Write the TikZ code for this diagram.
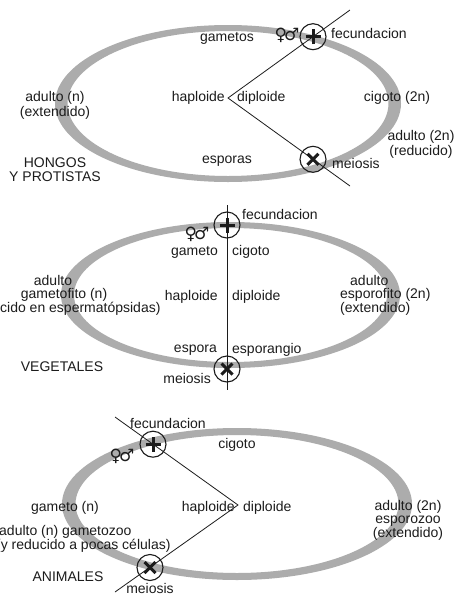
\documentclass[tikz,border=0pt]{standalone}
\usepackage{fontspec}
\setmainfont{Liberation Sans}
\newfontfamily\symfont{DejaVu Sans}
\definecolor{band}{RGB}{172,172,172}
\definecolor{ink}{RGB}{28,28,28}
\tikzset{
  lbl/.style={font=\fontsize{14}{13}\selectfont, text=ink, inner sep=0pt},
  sym/.style={font=\symfont\bfseries\fontsize{17}{17}\selectfont, text=ink, inner sep=0pt},
  evt/.style={circle, draw=ink, line width=1.1pt, minimum size=26pt, inner sep=0pt},
  fec/.style={evt, path picture={
      \draw[line width=3pt,ink] ([xshift=-7.5pt]path picture bounding box.center) -- ([xshift=7.5pt]path picture bounding box.center);
      \draw[line width=3pt,ink] ([yshift=-7.5pt]path picture bounding box.center) -- ([yshift=7.5pt]path picture bounding box.center);}},
  mei/.style={evt, path picture={
      \draw[line width=3pt,ink] ([shift={(-5.5pt,-5.5pt)}]path picture bounding box.center) -- ([shift={(5.5pt,5.5pt)}]path picture bounding box.center);
      \draw[line width=3pt,ink] ([shift={(-5.5pt,5.5pt)}]path picture bounding box.center) -- ([shift={(5.5pt,-5.5pt)}]path picture bounding box.center);}},
  axisline/.style={draw=ink, line width=0.8pt},
  bandring/.style={fill=band, even odd rule},
}
\begin{document}
\begin{tikzpicture}[x=1pt,y=-1pt]
\useasboundingbox (0,0) rectangle (455,598);
\fill[white] (0,0) rectangle (455,598);

% ---------- Diagram 1: hongos y protistas ----------
\fill[bandring] (228,103.5) ellipse [x radius=173, y radius=78.5]
                (228,103.5) ellipse [x radius=160.5, y radius=72.5];
\coordinate (t1) at (350,10);
\coordinate (v1) at (228,98);
\coordinate (b1) at (350,186);
\draw[axisline] (t1) -- (v1) -- (b1);
\node[fec] (f1) at (313,36.7) {};
\node[mei] (m1) at (313,159.3) {};
\node[lbl] (gametos1) at (227,38) {gametos};
\node[sym] (sex1) at (287,35) {♀\kern-3pt♂};
\node[lbl, anchor=west] (fecl1) at (331,33) {fecundacion};
\node[lbl, anchor=east] (hap1) at (225,98) {haploide};
\node[lbl, anchor=west] (dip1) at (237,98) {diploide};
\node[lbl, align=center, font=\fontsize{14}{15}\selectfont] (adn1) at (55,105.5) {adulto (n)\\(extendido)};
\node[lbl] (cig1) at (397,98) {cigoto (2n)};
\node[lbl, align=center, font=\fontsize{14}{15}\selectfont] (ad2n1) at (421,144.5) {adulto (2n)\\(reducido)};
\node[lbl] (esp1) at (227,161) {esporas};
\node[lbl, anchor=west] (meil1) at (332,163) {meiosis};
\node[lbl, align=center, font=\fontsize{14}{14}\selectfont] (title1) at (55,170) {HONGOS\\Y PROTISTAS};

% ---------- Diagram 2: vegetales ----------
\fill[bandring] (230.5,295) ellipse [x radius=169.5, y radius=73]
                (230.5,295) ellipse [x radius=156.5, y radius=67];
\coordinate (t2) at (227,205);
\coordinate (b2) at (227,390);
\draw[axisline] (t2) -- (b2);
\node[fec] (f2) at (227,225) {};
\node[mei] (m2) at (227,369) {};
\node[lbl, anchor=west] (fecl2) at (242,214) {fecundacion};
\node[sym] (sex2) at (197,234) {♀\kern-3pt♂};
\node[lbl, anchor=east] (gam2) at (218,252) {gameto};
\node[lbl, anchor=west] (cig2) at (232,252) {cigoto};
\node[lbl, anchor=east] (hap2) at (218,297) {haploide};
\node[lbl, anchor=west] (dip2) at (232,297) {diploide};
\node[lbl, anchor=east] (espo2) at (217,350) {espora};
\node[lbl, anchor=west] (espg2) at (232,350) {esporangio};
\node[lbl, anchor=east] (meil2) at (211,378) {meiosis};
\node[lbl] (title2) at (62,367) {VEGETALES};
\node[lbl, align=center] (gmt2) at (64,295) {adulto\hspace*{22pt}\\gametofito (n)\\(reducido en espermatópsidas)};
\node[lbl, align=left, anchor=west] (spr2) at (340,295) {\hspace*{10pt}adulto\\esporofito (2n)\\(extendido)};

% ---------- Diagram 3: animales ----------
\fill[bandring] (237,504) ellipse [x radius=175, y radius=76]
                (237,504) ellipse [x radius=161.5, y radius=69];
\coordinate (t3) at (115,417);
\coordinate (v3) at (238,505);
\coordinate (b3) at (115,592);
\draw[axisline] (t3) -- (v3) -- (b3);
\node[fec] (f3) at (153,444.2) {};
\node[mei] (m3) at (150,567.5) {};
\node[lbl] (fecl3) at (168,423) {fecundacion};
\node[lbl] (cig3) at (237,445) {cigoto};
\node[sym] (sex3) at (122,456) {♀\kern-3pt♂};
\node[lbl] (gam3) at (65,508) {gameto (n)};
\node[lbl, anchor=east] (hap3) at (235,508) {haploide};
\node[lbl, anchor=west] (dip3) at (243,508) {diploide};
\node[lbl, align=left, anchor=west] (gzoo3) at (-4,538.5) {\hspace*{3pt}adulto (n) gametozoo\\(y reducido a pocas células)};
\node[lbl] (title3) at (68,577) {ANIMALES};
\node[lbl] (meil3) at (150,588) {meiosis};
\node[lbl, align=center, font=\fontsize{14}{13}\selectfont] (szoo3) at (408,520) {adulto (2n)\\esporozoo\\(extendido)};
\end{tikzpicture}
\end{document}
